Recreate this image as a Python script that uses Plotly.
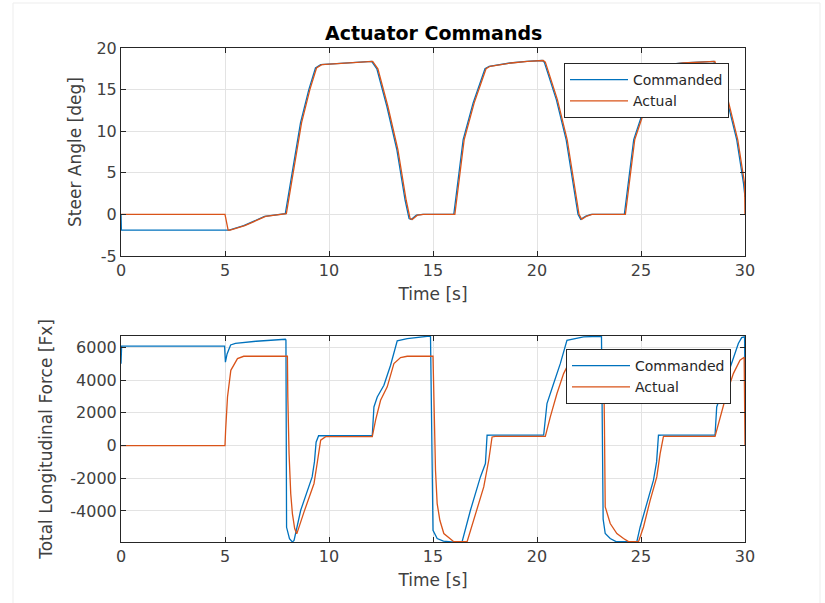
import plotly.graph_objects as go

# ---------------- data ----------------
steer_cmd_t = [0, 0.02, 5.0, 5.2, 5.9, 6.9, 7.9, 8.23, 8.63, 9.03, 9.35, 9.6, 10.5, 12.05,
               12.3, 12.78, 13.26, 13.66, 13.85, 13.95, 14.2, 14.5, 16.0, 16.45, 16.93, 17.5,
               17.7, 18.7, 19.5, 20.25, 20.35, 20.93, 21.4, 21.73, 21.97, 22.1, 22.35, 22.6,
               24.2, 24.65, 25.25, 25.7, 25.9, 27.0, 28.5, 29.13, 29.6, 29.93, 30.0]
steer_cmd_v = [0, -1.9, -1.9, -1.9, -1.35, -0.25, 0.1, 4.9, 11.0, 15.0, 17.6, 18.0, 18.15, 18.4,
               17.5, 13.0, 7.8, 1.7, -0.5, -0.6, -0.1, 0.0, 0.0, 9.0, 13.4, 17.5,
               17.8, 18.2, 18.4, 18.5, 18.3, 13.8, 9.0, 3.7, 0.0, -0.6, -0.2, 0.0,
               0.0, 9.0, 13.5, 17.5, 17.9, 18.2, 18.4, 13.8, 9.0, 3.7, 2.1]

steer_act_t = [0, 5.0, 5.15, 5.25, 5.95, 6.95, 7.95, 8.28, 8.68, 9.08, 9.4, 9.65, 10.55, 12.1,
               12.35, 12.83, 13.31, 13.71, 13.9, 14.0, 14.25, 14.55, 16.05, 16.5, 16.98, 17.55,
               17.75, 18.75, 19.55, 20.3, 20.4, 20.98, 21.45, 21.78, 22.02, 22.15, 22.4, 22.65,
               24.25, 24.7, 25.3, 25.75, 25.95, 27.05, 28.55, 29.18, 29.65, 29.98, 30.0]
steer_act_v = [0, 0, -1.9, -1.9, -1.35, -0.25, 0.1, 4.9, 11.0, 15.0, 17.6, 18.0, 18.15, 18.4,
               17.5, 13.0, 7.8, 1.7, -0.5, -0.6, -0.1, 0.0, 0.0, 9.0, 13.4, 17.5,
               17.8, 18.2, 18.4, 18.5, 18.3, 13.8, 9.0, 3.7, 0.0, -0.6, -0.2, 0.0,
               0.0, 9.0, 13.5, 17.5, 17.9, 18.2, 18.4, 13.8, 9.0, 3.7, 0.0]

force_cmd_t = [0, 0.03, 4.98, 5.02, 5.1, 5.27, 5.5, 6.5, 7.9, 7.93, 7.96, 8.1, 8.24, 8.32,
               8.64, 9.19, 9.3, 9.38, 9.5, 12.08, 12.16, 12.32, 12.64, 12.96, 13.28, 13.76,
               14.72, 14.88, 15.0, 15.2, 15.5, 15.9, 16.4, 16.8, 17.28, 17.52, 17.6, 17.8,
               20.32, 20.48, 20.8, 21.12, 21.44, 22.24, 23.1, 23.18, 23.28, 23.52, 23.8, 24.8,
               24.96, 25.28, 25.6, 25.75, 25.84, 26.0, 28.56, 28.64, 28.96, 29.28, 29.68,
               29.84, 29.98, 30.0]
force_cmd_v = [5000, 6080, 6080, 5100, 5600, 6150, 6250, 6380, 6500, 6450, -5000, -5700, -5900, -5800,
               -3960, -1920, -1000, 200, 600, 600, 2360, 2970, 3690, 4910, 6400, 6540,
               6680, 6690, -5180, -5690, -5850, -5900, -5880, -3960, -1920, -1100, 630, 640,
               640, 2570, 3790, 5010, 6440, 6650, 6680, -4500, -5380, -5690, -5880, -5880,
               -4980, -3550, -2120, -1000, 630, 640, 640, 2360, 3590, 4810, 6240,
               6600, 6650, 2800]

force_act_t = [0, 5.0, 5.03, 5.12, 5.28, 5.6, 5.9, 8.0, 8.02, 8.08, 8.16, 8.24, 8.35, 8.45,
               8.8, 9.28, 9.43, 9.6, 9.84, 12.08, 12.24, 12.48, 12.8, 13.12, 13.44, 13.76,
               15.0, 15.04, 15.12, 15.2, 15.33, 15.52, 15.84, 16.0, 16.64, 16.96, 17.44, 17.68,
               17.84, 18.0, 20.4, 20.64, 20.96, 21.28, 21.6, 21.9, 23.2, 23.24, 23.28, 23.52,
               23.84, 24.16, 24.4, 24.88, 25.12, 25.44, 25.76, 25.92, 26.08, 28.56, 28.8,
               29.12, 29.44, 29.76, 29.96, 30.0]
force_act_v = [0, 0, 940, 2970, 4600, 5320, 5460, 5460, 2970, -490, -2940, -4160, -5080, -5400,
               -4060, -2320, -1100, 324, 540, 540, 1550, 2770, 3590, 5010, 5380, 5460,
               5460, 3590, -1510, -3550, -4570, -5380, -5690, -5880, -5880, -4570, -2530, -900,
               526, 560, 560, 1750, 3180, 4400, 5220, 5420, 5460, 1500, -3750, -4770,
               -5380, -5690, -5880, -5880, -4980, -3350, -1920, -490, 560, 560, 1750,
               3180, 4400, 5220, 5400, 0]

series_names = ["Commanded", "Actual"]
x_ticks = [0, 5, 10, 15, 20, 25, 30]
steer_ticks = [-5, 0, 5, 10, 15, 20]
force_ticks = [-4000, -2000, 0, 2000, 4000, 6000]

BLUE = "#0072BD"
ORANGE = "#D95319"
AX = "#262626"
TXT = "#404040"
GRID = "#e3e3e3"
FONT = "DejaVu Sans"

fig = go.Figure()
fig.add_trace(go.Scatter(x=steer_cmd_t, y=steer_cmd_v, name=series_names[0], mode="lines",
                         line=dict(color=BLUE, width=1.3), xaxis="x", yaxis="y", legend="legend"))
fig.add_trace(go.Scatter(x=steer_act_t, y=steer_act_v, name=series_names[1], mode="lines",
                         line=dict(color=ORANGE, width=1.3), xaxis="x", yaxis="y", legend="legend"))
fig.add_trace(go.Scatter(x=force_cmd_t, y=force_cmd_v, name=series_names[0], mode="lines",
                         line=dict(color=BLUE, width=1.3), xaxis="x2", yaxis="y2", legend="legend2"))
fig.add_trace(go.Scatter(x=force_act_t, y=force_act_v, name=series_names[1], mode="lines",
                         line=dict(color=ORANGE, width=1.3), xaxis="x2", yaxis="y2", legend="legend2"))

L, R, T, B = 121, 80, 48, 61
W, H = 825, 603
ph = H - T - B
def py(p):
    return (H - B - p) / ph
def px(p):
    return (p - L) / (W - L - R)

common = dict(showline=True, linecolor=AX, linewidth=1, mirror="allticks", ticks="inside",
              ticklen=5, tickcolor=AX, showgrid=True, gridcolor=GRID, gridwidth=1,
              zeroline=False, tickfont=dict(family=FONT, size=16, color=TXT))

legend_common = dict(bgcolor="white", bordercolor=AX, borderwidth=1,
                     font=dict(family=FONT, size=14, color=AX), xanchor="right", yanchor="top",
                     tracegroupgap=0, itemwidth=58)

def labels(vals):
    return [str(v) for v in vals]

fig.update_layout(
    width=W, height=H, margin=dict(l=L, r=R, t=T, b=B),
    paper_bgcolor="white", plot_bgcolor="white",
    xaxis=dict(domain=[0, 1], anchor="y", range=[0, 30], tickvals=x_ticks, ticktext=labels(x_ticks),
               title=dict(text="Time [s]", font=dict(family=FONT, size=17, color=TXT), standoff=8),
               **common),
    yaxis=dict(domain=[py(256), 1], anchor="x", range=[-5, 20], tickvals=steer_ticks,
               ticktext=labels(steer_ticks),
               title=dict(text="Steer Angle [deg]", font=dict(family=FONT, size=17, color=TXT), standoff=10),
               **common),
    xaxis2=dict(domain=[0, 1], anchor="y2", range=[0, 30], tickvals=x_ticks, ticktext=labels(x_ticks),
                title=dict(text="Time [s]", font=dict(family=FONT, size=17, color=TXT), standoff=8),
                **common),
    yaxis2=dict(domain=[0, py(336)], anchor="x2", range=[-5900, 6700], tickvals=force_ticks,
                ticktext=labels(force_ticks),
                title=dict(text="Total Longitudinal Force [Fx]", font=dict(family=FONT, size=17, color=TXT), standoff=13),
                **common),
    legend=dict(x=px(729), y=py(63), **legend_common),
    legend2=dict(x=px(731), y=py(349), **legend_common),
    showlegend=True,
    annotations=[dict(text="<b>Actuator Commands</b>", xref="paper", yref="paper",
                      x=0.5, y=py(33), xanchor="center", yanchor="middle", showarrow=False,
                      font=dict(family=FONT, size=19, color="#000000"))],
    shapes=[dict(type="rect", xref="paper", yref="paper", x0=px(13), x1=px(820),
                 y0=py(610), y1=py(3), line=dict(color="#ededed", width=1),
                 fillcolor="rgba(0,0,0,0)", layer="below")],
)

fig.write_html("out.html")
